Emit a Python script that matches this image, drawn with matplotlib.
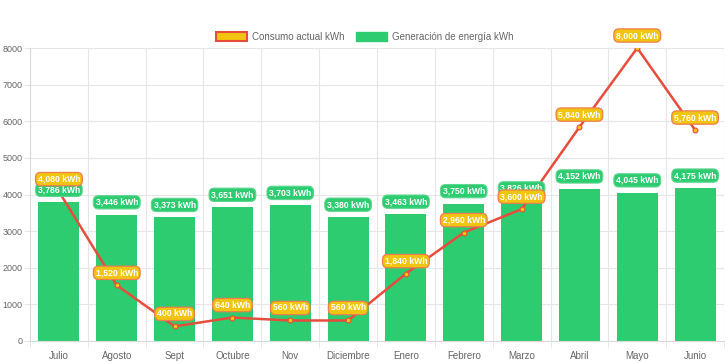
import matplotlib
matplotlib.use("Agg")
import matplotlib.pyplot as plt
from matplotlib.patches import Patch
import numpy as np

months = ["Julio", "Agosto", "Sept", "Octubre", "Nov", "Diciembre",
          "Enero", "Febrero", "Marzo", "Abril", "Mayo", "Junio"]
generacion = [3786, 3446, 3373, 3651, 3703, 3380, 3463, 3750, 3826, 4152, 4045, 4175]
consumo = [4080, 1520, 400, 640, 560, 560, 1840, 2960, 3600, 5840, 8000, 5760]

GREEN = "#2ecc71"
RED = "#e74c3c"
YELLOW = "#f1c40f"
GRID = "#e6e6e6"
TXT = "#666666"

plt.rcParams['font.family'] = ['Liberation Sans', 'DejaVu Sans']

fig = plt.figure(figsize=(7.28, 3.63), dpi=100)
ax = fig.add_axes([30/728, 22/363, 694/728, 293/363])

x = np.arange(len(months))
ax.bar(x, generacion, width=0.71, color=GREEN, zorder=2)
ax.plot(x, consumo, color=RED, lw=1.8, zorder=3,
        marker='o', ms=3.5, mfc=YELLOW, mec=RED, mew=0.8)

def fmt(v):
    return f"{v:,} kWh"

for xi, v in zip(x, generacion):
    ax.annotate(fmt(v), (xi, v), xytext=(0, 9), textcoords='offset points',
                ha='center', va='center', fontsize=6.2, fontweight='bold', color='white',
                bbox=dict(boxstyle='round,pad=0.25,rounding_size=0.6', fc=GREEN, ec='#5fd68f', lw=0.8),
                zorder=5)
for xi, v in zip(x, consumo):
    ax.annotate(fmt(v), (xi, v), xytext=(0, 9), textcoords='offset points',
                ha='center', va='center', fontsize=6.2, fontweight='bold', color='white',
                bbox=dict(boxstyle='round,pad=0.25,rounding_size=0.6', fc=YELLOW, ec='#ee7e4f', lw=0.9),
                zorder=6)

ax.set_xlim(-0.5, len(months) - 0.5)
ax.set_ylim(0, 8000)
ax.set_yticks(np.arange(0, 8001, 1000))
ax.set_xticks(x)
ax.set_xticklabels(months)
ax.set_xticks(np.arange(-0.5, len(months)), minor=True)
ax.tick_params(axis='x', which='major', length=0, labelsize=7, colors=TXT, pad=7)
ax.tick_params(axis='x', which='minor', length=5, color=GRID)
ax.tick_params(axis='y', length=4, color=GRID, labelsize=6.5, colors=TXT, pad=1.5)
ax.grid(True, axis='y', color=GRID, lw=0.8, zorder=0)
ax.grid(True, axis='x', which='minor', color=GRID, lw=0.8, zorder=0)
for s in ['top', 'right']:
    ax.spines[s].set_visible(False)
ax.spines['left'].set_color('#d9d9d9')
ax.spines['bottom'].set_color('#d9d9d9')

handles = [Patch(fc=YELLOW, ec=RED, lw=1.5, label="Consumo actual kWh"),
           Patch(fc=GREEN, ec=GREEN, label="Generación de energía kWh")]
fig.legend(handles=handles, loc='center', bbox_to_anchor=(365/728, 1 - 37/363), ncol=2,
           frameon=False, fontsize=7, handlelength=3.2, handleheight=1.0,
           columnspacing=1.2, handletextpad=0.5, labelcolor=TXT)

fig.savefig("out.png", dpi=100)
